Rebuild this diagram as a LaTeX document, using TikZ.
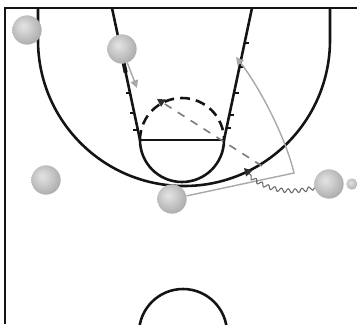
\documentclass[tikz,border=0pt]{standalone}
\usepackage{tikz}
\usetikzlibrary{
  arrows.meta,
  calc,
  decorations.pathmorphing
}
\definecolor{CourtBlack}{RGB}{20,20,20}
\definecolor{CutGray}{RGB}{168,168,168}
\definecolor{PassGray}{RGB}{125,125,125}
\definecolor{DribbleGray}{RGB}{105,105,105}
\definecolor{TipDark}{RGB}{45,45,45}
\pgfdeclareradialshading{playerball}{\pgfqpoint{-7bp}{7bp}}{%
  color(0bp)=(gray!22); color(10bp)=(gray!35); color(25bp)=(gray!58);
  color(42bp)=(gray!85); color(65bp)=(gray!100!black!90)}
\tikzset{
  courtline/.style={draw=CourtBlack, line width=2.2pt},
  player/.style={
    circle,
    shading=playerball,
    minimum size=8.8mm,
    inner sep=0pt
  },
  ballmark/.style={player, minimum size=3.4mm},
  cutarrow/.style={-{Triangle[length=2.3mm,width=2.3mm]},line width=1.2pt,draw=CutGray},
  passarrow/.style={-{Triangle[length=2.3mm,width=2.5mm,color=TipDark]},line width=1.4pt,draw=PassGray,dash pattern=on 2.4mm off 2.2mm},
  dribblearrow/.style={-{Triangle[length=2.3mm,width=2.5mm,color=TipDark]},line width=0.9pt,draw=DribbleGray,
    decorate,decoration={snake,amplitude=0.6mm,segment length=2.1mm,post length=2.6mm}}
}

\begin{document}
\begin{tikzpicture}[x=0.3mm, y=-0.3mm]
  \useasboundingbox (0,0) rectangle (357,324);

  % court
  \draw[courtline, line width=2.5pt] (5,324) -- (5,8) -- (357,8);
  \draw[courtline] (38,8) -- (38,40) arc[start angle=180, end angle=0, radius=146] -- (330,8);
  \draw[courtline] (112,8) -- (140,140) arc[start angle=180, end angle=0, radius=42] -- (252,8);
  \draw[courtline] (140,140) -- (224,140);
  \draw[courtline, dash pattern=on 3mm off 1.8mm] (140,140) arc[start angle=180, end angle=360, radius=42];
  \begin{scope}
    \clip (0,0) rectangle (357,324);
    \draw[courtline] (183,333) circle[radius=44];
  \end{scope}

  % lane marks
  \draw[courtline, line width=3.4pt] ($(112,8)!0.42!(140,140)$) -- ($(112,8)!0.49!(140,140)$);
  \draw[courtline, line width=1.5pt]
    (130,93) -- ++(-4.5,0) (134.3,113) -- ++(-4.5,0) (137.9,130) -- ++(-4.5,0)
    (244.6,43) -- ++(4.5,0) (239.5,67) -- ++(4.5,0) (234,93) -- ++(4.5,0)
    (229.3,115) -- ++(4.5,0) (226.5,128) -- ++(4.5,0);

  % players
  \node[player] (p1) at (27,30) {};
  \node[player] (p2) at (122,49) {};
  \node[player] (p3) at (46,180) {};
  \node[player] (p4) at (172,199) {};
  \node[player] (p5) at (329,184) {};
  \node[ballmark] (ball) at (352,184) {};

  \coordinate (cut2) at (137,88);
  \coordinate (wing) at (294,173);
  \coordinate (block) at (236,57);
  \coordinate (dribend) at (244,168);
  \coordinate (passfrom) at (262,166);
  \coordinate (passto) at (157,99);

  % moves
  \draw[cutarrow] (p2) -- (cut2);
  \draw[cutarrow] (p4) -- (wing) .. controls (285,135) and (258,85) .. (block);
  \draw[dribblearrow] (p5) .. controls (290,194) and (262,190) .. (dribend);
  \draw[passarrow] (passfrom) -- (passto);
\end{tikzpicture}
\end{document}
